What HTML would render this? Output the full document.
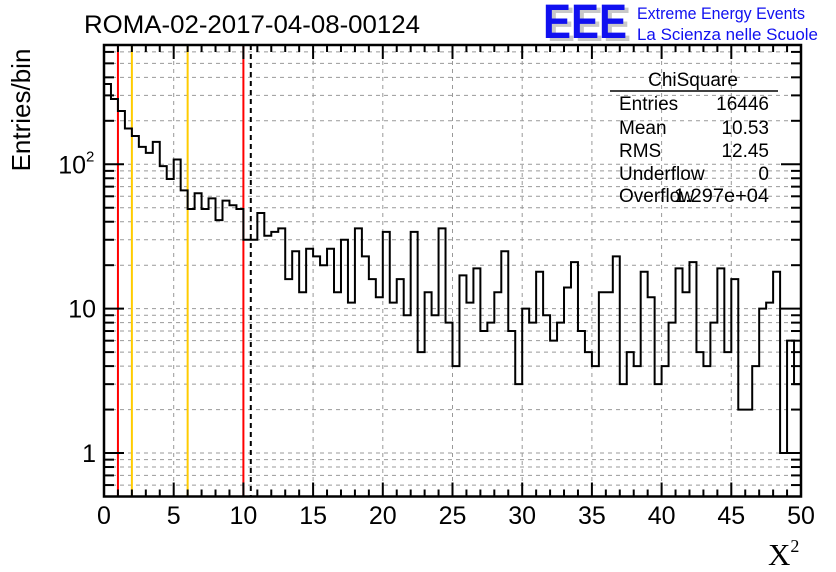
<!DOCTYPE html>
<html><head><meta charset="utf-8"><style>
html,body{margin:0;padding:0;background:#fff;}
svg{display:block;font-family:"Liberation Sans",sans-serif;}
</style></head><body>
<svg id="chart" width="836" height="572" viewBox="0 0 836 572" xmlns="http://www.w3.org/2000/svg">
<rect x="0" y="0" width="836" height="572" fill="#fff"/>
<g id="grid"></g>
<g id="cuts"></g>
<path id="hist" fill="none" stroke="#000" stroke-width="2"/>
<g id="axes"></g>
<text x="84" y="33" font-size="25" textLength="336" lengthAdjust="spacingAndGlyphs">ROMA-02-2017-04-08-00124</text>
<g>
<text x="547" y="41" font-size="48" font-weight="bold" fill="#c8c8c8" textLength="84" lengthAdjust="spacingAndGlyphs">EEE</text>
<text x="543" y="38" font-size="48" font-weight="bold" fill="#1010f0" textLength="84" lengthAdjust="spacingAndGlyphs">EEE</text>
<text x="637" y="19" font-size="16.5" fill="#1010f0" textLength="168" lengthAdjust="spacingAndGlyphs">Extreme Energy Events</text>
<text x="637" y="40" font-size="16.5" fill="#1010f0" textLength="181" lengthAdjust="spacingAndGlyphs">La Scienza nelle Scuole</text>
</g>
<g font-size="19">
<text x="693" y="86" text-anchor="middle">ChiSquare</text>
<line x1="610" y1="91" x2="778" y2="91" stroke="#000" stroke-width="1.5"/>
<text x="619" y="110">Entries</text><text x="769" y="110" text-anchor="end">16446</text>
<text x="619" y="134">Mean</text><text x="769" y="134" text-anchor="end">10.53</text>
<text x="619" y="157">RMS</text><text x="769" y="157" text-anchor="end">12.45</text>
<text x="619" y="180">Underflow</text><text x="769" y="180" text-anchor="end">0</text>
<text x="619" y="202">Overflow</text><text x="769" y="202" text-anchor="end" textLength="95" lengthAdjust="spacingAndGlyphs">1.297e+04</text>
</g>
<text transform="translate(30,110) rotate(-90)" text-anchor="middle" font-size="26">Entries/bin</text>
<text x="768" y="565" font-family="Liberation Serif,serif" font-size="31">X<tspan font-size="18" dy="-13">2</tspan></text>
</svg>
<script>
const counts = [360,283,234,177,157,132,120,143,97,79,108,66,49,63,49,58,41,56,52,49,
30,30,46,32,34,36,16,25,13,26,23,20,26,13,30,11,36,23,16,12,
34,11,16,9,34,5,13,9,36,8,4,17,11,19,7,8,13,25,7,3,
10,8,18,9,6,8,14,21,7,5,4,13,13,23,3,5,4,18,12,3,
4,8,19,13,21,5,4,8,19,5,16,2,2,4,10,11,18,1,6,3];
const xTicks = [0,5,10,15,20,25,30,35,40,45,50];
const yTicks = [1,10,100];
const yTickLabels = ["1","10","10"];
const yTickExp = ["","","2"];
const redCuts = [1,10];
const yellowCuts = [2,6];
const meanLine = [10.53];
const binWidth = 0.5;

const L=104,R=801,T=45,B=496.5;
const XMIN=0,XMAX=50,YMIN=0.5,YMAX=670;
function X(v){return L+(v-XMIN)/(XMAX-XMIN)*(R-L);}
function Y(v){return B-(Math.log10(v)-Math.log10(YMIN))/(Math.log10(YMAX)-Math.log10(YMIN))*(B-T);}
const NS="http://www.w3.org/2000/svg";
function mk(tag,attrs,parent){const e=document.createElementNS(NS,tag);for(const k in attrs)e.setAttribute(k,attrs[k]);parent.appendChild(e);return e;}
const grid=document.getElementById('grid'),axes=document.getElementById('axes'),cuts=document.getElementById('cuts');
for(const t of xTicks){if(t===XMIN||t===XMAX)continue;
 const g=mk('line',{x1:X(t),x2:X(t),y1:T,y2:B,stroke:'#999','stroke-width':1,'stroke-dasharray':'4,4'},grid);
 
 }
for(let d=-1;d<=2;d++){for(let m=1;m<=9;m++){const v=m*Math.pow(10,d);if(v<=YMIN||v>=YMAX)continue;
 const y=Y(v);
 const g=mk('line',{x1:L,x2:R,y1:y,y2:y,stroke:'#999','stroke-width':1,'stroke-dasharray':'4,4'},grid);
 
 
 const major=(m===1);const len=major?20:10;
 const a=mk('line',{x1:L,x2:L+len,y1:y,y2:y,stroke:'#000','stroke-width':2},axes);
 
 
 const b=mk('line',{x1:R,x2:R-len,y1:y,y2:y,stroke:'#000','stroke-width':2},axes);
 
 }}
for(const c of redCuts){const e=mk('line',{x1:X(c),x2:X(c),y1:T,y2:B,stroke:'#f00','stroke-width':2},cuts);
 
 }
for(const c of yellowCuts){const e=mk('line',{x1:X(c),x2:X(c),y1:T,y2:B,stroke:'#fc0','stroke-width':2},cuts);
 
 }
for(const c of meanLine){const e=mk('line',{x1:X(c),x2:X(c),y1:T,y2:B,stroke:'#000','stroke-width':2,'stroke-dasharray':'5,4'},cuts);
 
 }
let d='M'+X(0)+','+B;
counts.forEach((c,i)=>{const y=c>0?Math.max(T,Math.min(B,Y(c))):B;d+=' L'+X(i*binWidth)+','+y+' L'+X((i+1)*binWidth)+','+y;});
d+=' L'+X(counts.length*binWidth)+','+B;
document.getElementById('hist').setAttribute('d',d);
const fr=mk('rect',{x:L,y:T,width:R-L,height:B-T,fill:'none',stroke:'#000','stroke-width':2.5},axes);


for(let v=XMIN;v<=XMAX;v+=1){const major=(v%5===0);const len=major?14:7;
 const a=mk('line',{x1:X(v),x2:X(v),y1:B,y2:B-len,stroke:'#000','stroke-width':2},axes);
 
 
 const b=mk('line',{x1:X(v),x2:X(v),y1:T,y2:T+len,stroke:'#000','stroke-width':2},axes);
 
 }
xTicks.forEach(t=>{const e=mk('text',{x:X(t),y:524,'text-anchor':'middle','font-size':25},axes);e.textContent=String(t);
 
 });
yTicks.forEach((t,i)=>{const hasExp=yTickExp[i]!=='';
 const e=mk('text',{x:hasExp?86:96,y:Y(t)+9,'text-anchor':'end','font-size':25},axes);e.textContent=yTickLabels[i];
 
 
 if(hasExp){const s=mk('text',{x:86,y:Y(t)-3,'font-size':15},axes);s.textContent=yTickExp[i];
 
 }});
</script>
</body></html>
